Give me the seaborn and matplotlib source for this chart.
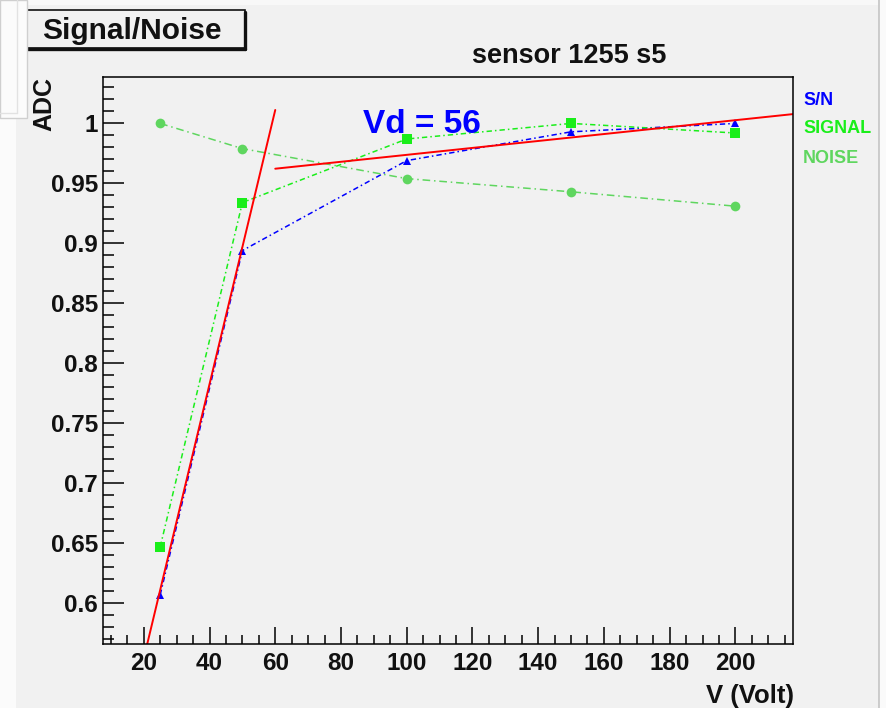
import numpy as np
import pandas as pd
import matplotlib
matplotlib.use("Agg")
import matplotlib.pyplot as plt
from matplotlib.patches import Rectangle
from matplotlib.lines import Line2D
from matplotlib.ticker import MultipleLocator, FuncFormatter
import seaborn as sns

# Bias scan of sensor 1255 s5 (normalised to the plateau)
voltage = [25, 50, 100, 150, 200]
sn_ratio = [0.607, 0.894, 0.969, 0.993, 1.000]
signal = [0.647, 0.934, 0.987, 1.000, 0.992]
noise = [1.000, 0.979, 0.954, 0.943, 0.931]

series_names = ["S/N", "SIGNAL", "NOISE"]
series_colors = {"S/N": "#0000ff", "SIGNAL": "#1aee1a", "NOISE": "#5fd65f"}
series_markers = {"S/N": "^", "SIGNAL": "s", "NOISE": "o"}
series_dashes = {"S/N": (3.5, 2, 1, 2), "SIGNAL": (3.5, 2, 1, 2), "NOISE": (5, 2.5, 1, 2.5)}

# straight-line fits: rising edge and plateau of S/N
rise_range = [20, 60]
rise_slope, rise_offset = 0.01143, 0.3254
plateau_range = [60, 220]
plateau_slope, plateau_offset = 0.000289, 0.9449

x_ticks = [20, 40, 60, 80, 100, 120, 140, 160, 180, 200]
y_ticks = [0.6, 0.65, 0.7, 0.75, 0.8, 0.85, 0.9, 0.95, 1.0]

# depletion voltage = crossing point of the two fits
vd = (plateau_offset - rise_offset) / (rise_slope - plateau_slope)

sns.set_style("ticks")
plt.rcParams["font.family"] = ["Liberation Sans", "DejaVu Sans"]
plt.rcParams["font.weight"] = "bold"

W, H = 887, 708
BG = "#f1f1f1"


def fx(px):
    return px / W


def fy(py):
    return 1 - py / H


fig = plt.figure(figsize=(W / 100, H / 100), dpi=100, facecolor=BG)

# window decorations around the canvas
fig.patches.append(Rectangle((0, 0), fx(16), 1, transform=fig.transFigure,
                             facecolor="#fbfbfb", edgecolor="none", zorder=0))
fig.patches.append(Rectangle((0, fy(5)), 1, fy(0) - fy(5), transform=fig.transFigure,
                             facecolor="#f8f8f8", edgecolor="none", zorder=0))
fig.patches.append(Rectangle((fx(879), 0), fx(887) - fx(879), 1, transform=fig.transFigure,
                             facecolor="#fafafa", edgecolor="none", zorder=0))
fig.lines.append(Line2D([fx(879), fx(879)], [0, 1], transform=fig.transFigure,
                        color="#c4c4c4", lw=1.2, zorder=1))

ax = fig.add_axes([fx(102.7), fy(644), fx(792.9) - fx(102.7), fy(77) - fy(644)])
ax.set_facecolor(BG)

df = pd.DataFrame({
    "V": voltage * 3,
    "value": sn_ratio + signal + noise,
    "series": [n for n in series_names for _ in voltage],
})
sns.lineplot(data=df, x="V", y="value", hue="series", style="series",
             hue_order=series_names, style_order=series_names,
             palette=series_colors, markers=series_markers, dashes=series_dashes,
             linewidth=1.1, markersize=7, markeredgewidth=0, legend=False, ax=ax)
for line in ax.lines:
    if line.get_marker() == "^":
        line.set_markersize(6)

rise_y = [rise_slope * v + rise_offset for v in rise_range]
plateau_y = [plateau_slope * v + plateau_offset for v in plateau_range]
sns.lineplot(x=rise_range, y=rise_y, color="#ff0000", linewidth=1.4, ax=ax)
sns.lineplot(x=plateau_range, y=plateau_y, color="#ff0000", linewidth=1.4, ax=ax)

ax.set_xlim(7.5, 217.5)
ax.set_ylim(0.566, 1.0387)
ax.set_xlabel("")
ax.set_ylabel("")
ax.set_xticks(x_ticks)
ax.set_yticks(y_ticks)
ax.xaxis.set_minor_locator(MultipleLocator(5))
ax.yaxis.set_minor_locator(MultipleLocator(0.01))
ax.yaxis.set_major_formatter(FuncFormatter(lambda v, p: f"{v:g}"))
ax.tick_params(axis="both", which="both", direction="in", color="black", width=1.1,
               top=False, right=False, labelsize=17.5, labelcolor="#111111")
ax.tick_params(axis="y", which="major", length=15, pad=3.5)
ax.tick_params(axis="y", which="minor", length=8)
ax.tick_params(axis="x", which="major", length=12, pad=6)
ax.tick_params(axis="x", which="minor", length=6.5)
for lbl in ax.get_xticklabels() + ax.get_yticklabels():
    lbl.set_fontweight("bold")
for sp in ax.spines.values():
    sp.set_visible(True)
    sp.set_color("black")
    sp.set_linewidth(1.1)

ax.text(86.6, 0.0, f"Vd = {vd:.0f}", transform=ax.get_xaxis_transform(),
        color="#0000ff", fontsize=24, fontweight="bold", ha="left", va="baseline")
ax.texts[-1].set_position((86.6, 1.0 - (133.3 - 123.3) / 1199))
ax.texts[-1].set_transform(ax.transData)

# canvas texts
fig.text(fx(568.8), fy(63.3), "sensor 1255 s5", ha="center", va="baseline",
         fontsize=19.5, fontweight="bold", color="#111111")
fig.text(fx(44), fy(77), "ADC", rotation=90, ha="center", va="top",
         fontsize=18, fontweight="bold", color="#111111")
fig.text(fx(793.6), fy(703), "V (Volt)", ha="right", va="baseline",
         fontsize=18.5, fontweight="bold", color="#111111")
for name, base in zip(series_names, [105, 133.3, 162.7]):
    fig.text(fx(803), fy(base), name, ha="left", va="baseline",
             fontsize=13, fontweight="bold", color=series_colors[name])

# pad title box with drop shadow
fig.patches.append(Rectangle((fx(20), fy(48)), fx(245) - fx(20), fy(10) - fy(48),
                             transform=fig.transFigure, facecolor=BG,
                             edgecolor="#111111", lw=1.2, zorder=2))
fig.lines.append(Line2D([fx(22), fx(245.5)], [fy(48.5), fy(48.5)], transform=fig.transFigure,
                        color="#111111", lw=2.4, zorder=3))
fig.lines.append(Line2D([fx(245.5), fx(245.5)], [fy(12), fy(48.5)], transform=fig.transFigure,
                        color="#111111", lw=2.4, zorder=3))
fig.text(fx(41.7), fy(39.3), "Signal/Noise", ha="left", va="baseline",
         fontsize=21.5, fontweight="bold", color="#111111", zorder=4)

# side panel of the window
fig.patches.append(Rectangle((0, fy(118)), fx(27), fy(0) - fy(118), transform=fig.transFigure,
                             facecolor="#fbfbfb", edgecolor="#cfcfcf", lw=1.0, zorder=5))
fig.lines.append(Line2D([fx(17), fx(17)], [fy(113), 1], transform=fig.transFigure,
                        color="#e2e2e2", lw=1.0, zorder=6))
fig.lines.append(Line2D([0, fx(17)], [fy(113), fy(113)], transform=fig.transFigure,
                        color="#e2e2e2", lw=1.0, zorder=6))

fig.savefig("out.png", dpi=100, facecolor=BG)
